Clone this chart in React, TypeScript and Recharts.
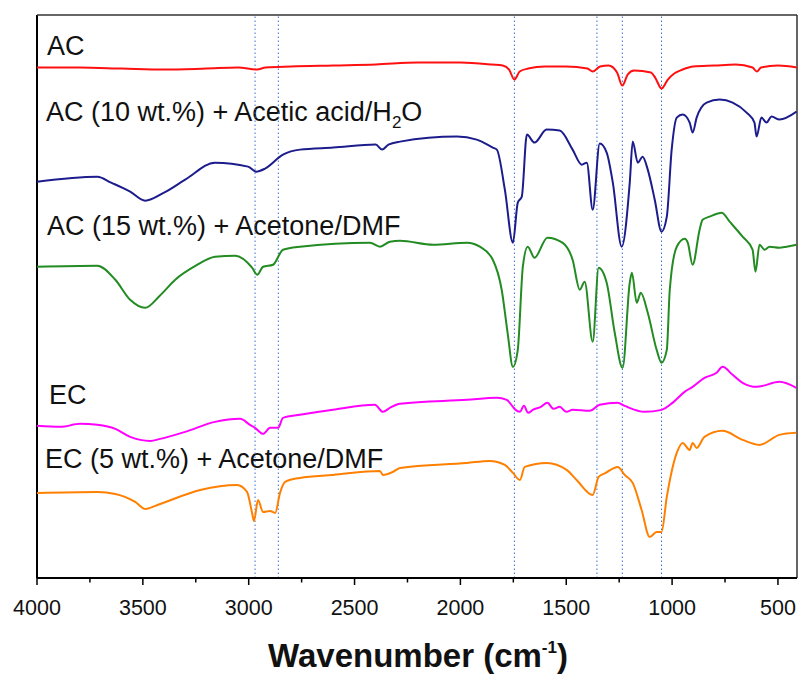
import { Customized, Line, LineChart, ReferenceLine, XAxis, YAxis } from "recharts";

// FTIR spectra, offset transmittance (a.u.) vs wavenumber (cm-1)
const AC: [number, number][] = [
  [4000, 510], [3800, 510], [3600, 509], [3400, 508], [3200, 509], [3050, 510], [2960, 508], [2920, 510],
  [2800, 511], [2600, 512], [2400, 513], [2200, 515], [2000, 515], [1850, 513], [1800, 512], [1770, 508],
  [1745, 498], [1720, 506], [1680, 509], [1600, 511], [1500, 511], [1400, 509], [1375, 506], [1340, 511],
  [1300, 512], [1260, 505], [1235, 492], [1210, 503], [1180, 507], [1100, 505], [1080, 500], [1050, 489],
  [1020, 498], [990, 504], [950, 508], [900, 511], [800, 512], [700, 513], [620, 510], [600, 506],
  [580, 510], [500, 512], [410, 510],
];

const AC10: [number, number][] = [
  [4000, 396], [3715, 401], [3650, 395], [3560, 386], [3489, 377], [3400, 385], [3300, 398], [3159, 415],
  [3003, 411], [2965, 406], [2923, 409], [2838, 423], [2758, 428], [2600, 430], [2400, 433], [2370, 428],
  [2340, 433], [2285, 436], [2016, 441], [1923, 438], [1847, 430], [1828, 428], [1790, 388], [1752, 335],
  [1729, 375], [1710, 381], [1686, 443], [1650, 435], [1593, 448], [1531, 447], [1470, 428], [1427, 413],
  [1403, 415], [1375, 368], [1342, 434], [1309, 425], [1280, 395], [1238, 331], [1200, 395], [1186, 436],
  [1162, 415], [1139, 421], [1115, 408], [1082, 378], [1050, 346], [1025, 361], [1002, 428], [978, 460],
  [950, 463], [917, 455], [903, 445], [884, 460], [837, 475], [775, 478], [714, 475], [648, 465],
  [611, 455], [601, 441], [578, 460], [554, 455], [530, 461], [493, 458], [412, 466],
];

const AC15: [number, number][] = [
  [4000, 311], [3715, 312], [3630, 298], [3560, 278], [3489, 270], [3420, 282], [3347, 298], [3250, 312],
  [3159, 321], [3064, 322], [2984, 310], [2960, 303], [2932, 311], [2885, 313], [2838, 328], [2758, 331],
  [2427, 335], [2380, 331], [2333, 336], [2285, 337], [2129, 333], [1969, 335], [1908, 331], [1847, 318],
  [1805, 288], [1777, 245], [1752, 211], [1729, 228], [1705, 311], [1682, 331], [1650, 320], [1589, 340],
  [1518, 335], [1470, 318], [1436, 288], [1413, 296], [1375, 236], [1347, 310], [1309, 295], [1271, 245],
  [1234, 210], [1200, 295], [1190, 305], [1167, 275], [1148, 285], [1115, 265], [1073, 228], [1050, 215],
  [1025, 228], [1011, 288], [978, 331], [940, 339], [926, 335], [903, 313], [870, 348], [856, 358],
  [823, 361], [766, 365], [728, 356], [667, 341], [620, 328], [606, 306], [587, 333], [563, 328],
  [540, 331], [493, 330], [460, 331], [413, 333],
];

const EC: [number, number][] = [
  [4000, 152], [3890, 151], [3796, 154], [3715, 153], [3630, 149], [3560, 141], [3465, 137], [3418, 139],
  [3300, 146], [3159, 156], [3041, 159], [2994, 153], [2970, 150], [2932, 144], [2899, 150], [2861, 150],
  [2838, 160], [2758, 163], [2602, 168], [2404, 173], [2366, 166], [2333, 170], [2285, 174], [1969, 178],
  [1828, 180], [1781, 178], [1752, 171], [1740, 168], [1719, 166], [1700, 172], [1680, 165], [1658, 168],
  [1620, 171], [1589, 175], [1560, 169], [1531, 171], [1500, 166], [1470, 168], [1389, 167], [1342, 173],
  [1257, 175], [1224, 172], [1130, 166], [1050, 168], [998, 175], [941, 186], [903, 191], [847, 200],
  [790, 205], [762, 211], [714, 203], [667, 195], [601, 191], [493, 196], [413, 190],
];

const EC5: [number, number][] = [
  [4000, 85], [3715, 86], [3630, 84], [3536, 76], [3489, 69], [3418, 74], [3229, 88], [3055, 93],
  [3008, 86], [2984, 65], [2975, 57], [2956, 78], [2932, 66], [2899, 67], [2875, 65], [2852, 85],
  [2828, 96], [2758, 100], [2602, 103], [2380, 107], [2366, 103], [2319, 106], [2285, 110], [1969, 115],
  [1861, 117], [1790, 113], [1752, 105], [1719, 98], [1696, 111], [1592, 115], [1498, 108], [1451, 98],
  [1375, 83], [1347, 101], [1314, 105], [1257, 111], [1224, 103], [1186, 95], [1144, 68], [1106, 41],
  [1073, 46], [1050, 46], [1025, 81], [978, 125], [950, 135], [917, 128], [903, 135], [884, 130],
  [847, 141], [762, 147], [667, 138], [587, 133], [493, 143], [413, 145],
];

const peakLines = [2970, 2860, 1745, 1355, 1235, 1050];
const xTicks = [4000, 3750, 3500, 3250, 3000, 2750, 2500, 2250, 2000, 1750, 1500, 1250, 1000, 750, 500];

const series = [
  { name: "AC", data: AC, color: "#ff1010" },
  { name: "AC10", data: AC10, color: "#1c1c8c" },
  { name: "AC15", data: AC15, color: "#228b22" },
  { name: "EC", data: EC, color: "#ff00ff" },
  { name: "EC5", data: EC5, color: "#ff8000" },
];

const FONT = "'Liberation Sans', Arial, sans-serif";

function WaveTick(props: any) {
  const { x, y, payload } = props;
  const major = payload.value % 500 === 0;
  return (
    <g>
      <line x1={x} x2={x} y1={y} y2={y + (major ? 7 : 4.5)} stroke="#000" strokeWidth={1.5} />
      {major && (
        <text x={x} y={y + 37} textAnchor="middle" fontSize={21.5} fontFamily={FONT} fill="#111">
          {payload.value}
        </text>
      )}
    </g>
  );
}

function Labels() {
  const s = { fontSize: 27, fontFamily: FONT, fill: "#111" };
  return (
    <g>
      <text x={47} y={55} {...s}>AC</text>
      <text x={46} y={121} {...s}>
        AC (10 wt.%) + Acetic acid/H<tspan fontSize={17} dy={7}>2</tspan>
        <tspan dy={-7}>O</tspan>
      </text>
      <text x={47} y={235} {...s}>AC (15 wt.%) + Acetone/DMF</text>
      <text x={49} y={404} {...s}>EC</text>
      <text x={45} y={468} {...s}>EC (5 wt.%) + Acetone/DMF</text>
      <text x={418} y={667} textAnchor="middle" fontSize={33} fontWeight="bold" fontFamily={FONT} fill="#111">
        Wavenumber (cm<tspan fontSize={17} dy={-14}>-1</tspan>
        <tspan dy={14}>)</tspan>
      </text>
    </g>
  );
}

export default function App() {
  return (
    <div style={{ position: "absolute", left: 0, top: 0, width: 799, height: 677, background: "#fff" }}>
      <LineChart width={799} height={677} margin={{ top: 15, right: 2, left: 37, bottom: 0 }}>
        <XAxis
          type="number"
          dataKey="x"
          domain={[410, 4000]}
          reversed
          ticks={xTicks}
          interval={0}
          tickSize={0}
          tickMargin={0}
          tick={<WaveTick />}
          height={99}
          axisLine={{ stroke: "#000", strokeWidth: 2 }}
          allowDataOverflow
        />
        <YAxis type="number" domain={[0, 562.5]} hide allowDataOverflow />
        {peakLines.map((p) => (
          <ReferenceLine key={p} x={p} stroke="#3c6fd6" strokeWidth={1} strokeDasharray="1.5 2.5" />
        ))}
        <ReferenceLine x={4000} stroke="#000" strokeWidth={2} />
        <ReferenceLine x={410} stroke="#333" strokeWidth={1.5} />
        <ReferenceLine y={562.5} stroke="#333" strokeWidth={1.5} />
        {series.map((s) => (
          <Line
            key={s.name}
            data={s.data.map(([x, y]) => ({ x, y }))}
            dataKey="y"
            type="monotoneX"
            stroke={s.color}
            strokeWidth={2}
            dot={false}
            isAnimationActive={false}
          />
        ))}
        <Customized component={Labels} />
      </LineChart>
    </div>
  );
}
